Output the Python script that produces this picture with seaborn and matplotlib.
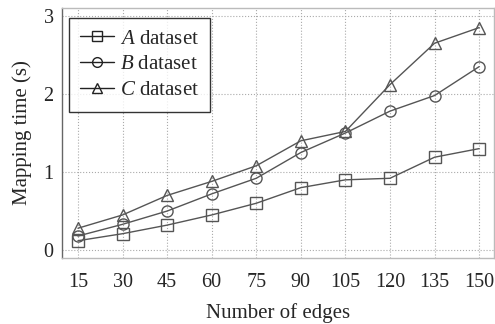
import matplotlib
matplotlib.use("Agg")
import matplotlib.pyplot as plt
import seaborn as sns
import pandas as pd

edges = [15, 30, 45, 60, 75, 90, 105, 120, 135, 150]
a_vals = [0.12, 0.21, 0.32, 0.45, 0.60, 0.80, 0.90, 0.92, 1.19, 1.30]
b_vals = [0.18, 0.33, 0.50, 0.72, 0.92, 1.25, 1.50, 1.78, 1.98, 2.35]
c_vals = [0.28, 0.45, 0.70, 0.88, 1.08, 1.40, 1.52, 2.12, 2.65, 2.85]
labels = [r"$A$ dataset", r"$B$ dataset", r"$C$ dataset"]

df = pd.DataFrame({
    "edges": edges * 3,
    "time": a_vals + b_vals + c_vals,
    "series": [labels[0]] * 10 + [labels[1]] * 10 + [labels[2]] * 10,
})

sns.set_style("white")
plt.rcParams["font.family"] = ["Liberation Serif", "DejaVu Serif"]
plt.rcParams["mathtext.fontset"] = "custom"
plt.rcParams["mathtext.it"] = "Liberation Serif:italic"
plt.rcParams["mathtext.rm"] = "Liberation Serif"

fig = plt.figure(figsize=(4.95, 3.24), dpi=100)
ax = fig.add_axes([0.125, 0.204, 0.873, 0.771])

col = "#555555"
sns.lineplot(data=df, x="edges", y="time", hue="series", style="series",
             markers={labels[0]: "s", labels[1]: "o", labels[2]: "^"},
             dashes=False, palette=[col, col, col], ax=ax,
             markerfacecolor="none", markeredgecolor=col, markersize=8,
             markeredgewidth=1.0, linewidth=1.0)

ax.set_xlim(9.6, 155)
ax.set_ylim(-0.1, 3.1)
ax.set_xticks(edges)
ax.set_yticks([0, 1, 2, 3])
ax.grid(True, linestyle=":", color="#aaaaaa", linewidth=0.8)
for s in ax.spines.values():
    s.set_color("#bbbbbb")
    s.set_linewidth(1.0)
ax.spines["left"].set_color("#666666")
ax.tick_params(axis="both", labelsize=14.5, length=0)
ax.tick_params(axis="x", pad=11)
ax.tick_params(axis="y", pad=6)
ax.set_xlabel("Number of edges", fontsize=15, labelpad=8)
ax.set_ylabel("Mapping time (s)", fontsize=15, labelpad=8)

leg = ax.legend(loc="upper left", fontsize=15, frameon=True, fancybox=False,
                edgecolor="black", handlelength=1.6, handletextpad=0.3,
                borderpad=0.55, labelspacing=0.3, borderaxespad=0,
                bbox_to_anchor=(0.016, 0.962))
leg.get_frame().set_linewidth(1.0)
for h in leg.legend_handles:
    h.set_markerfacecolor("none")
    h.set_markeredgecolor("#222222")
    h.set_color("#222222")
    h.set_markersize(7)

fig.savefig("out.png", dpi=100)
